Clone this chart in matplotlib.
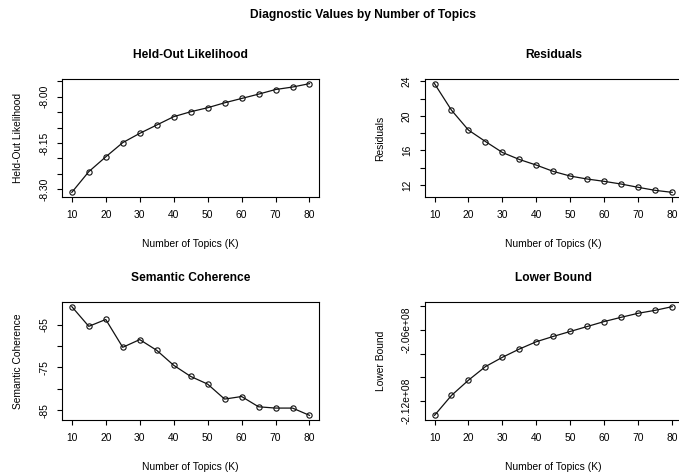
import numpy as np
import matplotlib
matplotlib.use("Agg")
import matplotlib.pyplot as plt
from matplotlib import font_manager

plt.rcParams["font.family"] = ["Liberation Sans", "DejaVu Sans"]

# narrow face for axis numbers, if the system has it
try:
    font_manager.findfont("Liberation Sans Narrow", fallback_to_default=False)
    TICK_FONT = "Liberation Sans Narrow"
    TICK_SIZE = 8.6
except ValueError:
    TICK_FONT = "Liberation Sans"
    TICK_SIZE = 7.4

# ── Diagnostic values from searchK, one entry per K ──────────────────────────

n_topics = [10, 15, 20, 25, 30, 35, 40, 45, 50, 55, 60, 65, 70, 75, 80]

heldout = [-8.310, -8.243, -8.195, -8.149, -8.119, -8.092, -8.065, -8.049,
           -8.036, -8.020, -8.006, -7.992, -7.977, -7.969, -7.958]

residuals = [23.73, 20.66, 18.36, 17.04, 15.77, 14.96, 14.31, 13.58,
             13.04, 12.70, 12.43, 12.12, 11.74, 11.39, 11.16]

semcoh = [-60.8, -65.4, -63.8, -70.3, -68.5, -71.0, -74.5, -77.1,
          -78.9, -82.4, -81.8, -84.2, -84.5, -84.5, -86.2]

lbound = [-2.1324e8, -2.1155e8, -2.1026e8, -2.0911e8, -2.0832e8, -2.0762e8,
          -2.0700e8, -2.0655e8, -2.0613e8, -2.0571e8, -2.0529e8, -2.0493e8,
          -2.0459e8, -2.0434e8, -2.0403e8]

x_ticks = [10, 20, 30, 40, 50, 60, 70, 80]

heldout_ticks = [-8.30, -8.25, -8.20, -8.15, -8.10, -8.05, -8.00, -7.95]
heldout_labels = ["-8.30", "", "", "-8.15", "", "", "-8.00", ""]

resid_ticks = [12, 14, 16, 18, 20, 22, 24]
resid_labels = ["12", "", "16", "", "20", "", "24"]

semcoh_ticks = [-85, -80, -75, -70, -65]
semcoh_labels = ["-85", "", "-75", "", "-65"]

lbound_ticks = [-2.12e8, -2.10e8, -2.08e8, -2.06e8, -2.04e8]
lbound_labels = ["-2.12e+08", "", "", "-2.06e+08", ""]

# ── Layout (pixel coordinates, origin top-left) ──────────────────────────────

W, H = 679, 476
fig = plt.figure(figsize=(W / 100, H / 100), dpi=100)

cols = [(62.3, 319.0), (425.0, 681.7)]
rows = [(79.3, 196.7), (302.3, 419.7)]


def px_text(x, y, s, **kw):
    fig.text(x / W, 1 - y / H, s, ha="center", va="center", **kw)


panels = [
    ("Held-Out Likelihood", heldout, heldout_ticks, heldout_labels, 0, 0),
    ("Residuals", residuals, resid_ticks, resid_labels, 0, 1),
    ("Semantic Coherence", semcoh, semcoh_ticks, semcoh_labels, 1, 0),
    ("Lower Bound", lbound, lbound_ticks, lbound_labels, 1, 1),
]

for name, values, yt, yl, r, c in panels:
    x0, x1 = cols[c]
    y0, y1 = rows[r]
    ax = fig.add_axes([x0 / W, 1 - y1 / H, (x1 - x0) / W, (y1 - y0) / H])
    ax.plot(n_topics, values, color="#111111", linewidth=0.9,
            marker="o", markersize=3.8, markerfacecolor="none",
            markeredgewidth=0.8)
    ax.margins(x=0.04, y=0.04)
    ax.set_xticks(x_ticks)
    ax.set_yticks(yt, labels=yl)
    ax.tick_params(direction="out", length=3.8, width=0.8, pad=5.6,
                   labelsize=TICK_SIZE, colors="black")
    ax.tick_params(axis="y", labelrotation=90)
    for lab in ax.get_xticklabels() + ax.get_yticklabels():
        lab.set_family(TICK_FONT)
    for lab in ax.get_yticklabels():
        lab.set_va("center")
    for sp in ax.spines.values():
        sp.set_linewidth(0.8)
        sp.set_color("black")

    cx = (x0 + x1) / 2
    cy = (y0 + y1) / 2
    px_text(cx, y0 - 24.5, name, fontsize=8.64, fontweight="bold")
    px_text(cx, y1 + 47, "Number of Topics (K)", fontsize=7.4)
    px_text(x0 - 44.5, cy, name, fontsize=7.4, rotation=90)

px_text(363, 15, "Diagnostic Values by Number of Topics",
        fontsize=8.64, fontweight="bold")

fig.savefig("out.png", dpi=100)
